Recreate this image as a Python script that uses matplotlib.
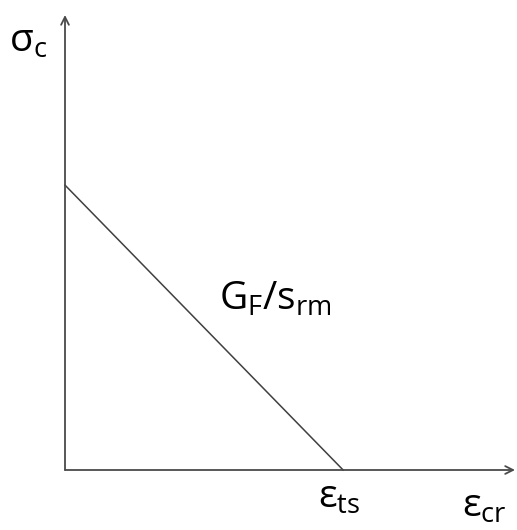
import matplotlib
matplotlib.use("Agg")
import matplotlib.pyplot as plt

# bilinear tension softening: stress drops linearly from peak to zero at eps_ts
strain = [0.0, 1.0]
stress = [1.0, 0.0]
x_max, y_max = 1.618, 1.597

plt.rcParams['font.family'] = ['Open Sans', 'DejaVu Sans']
plt.rcParams['mathtext.fontset'] = 'custom'
plt.rcParams['mathtext.rm'] = 'Open Sans'
plt.rcParams['mathtext.it'] = 'Open Sans'
plt.rcParams['mathtext.sf'] = 'Open Sans'

fig = plt.figure(figsize=(5.17, 5.30), dpi=100)
ax = fig.add_axes([65/517, 60/530, 450/517, 455/530])
ax.set_xlim(0, x_max)
ax.set_ylim(0, y_max)
for s in ax.spines.values():
    s.set_visible(False)
ax.set_xticks([])
ax.set_yticks([])

axcol = '#4a4a4a'
# axes with open arrowheads
ax.annotate('', xy=(x_max, 0), xytext=(0, 0),
            arrowprops=dict(arrowstyle='->', color=axcol, lw=1.3,
                            shrinkA=0, shrinkB=0, mutation_scale=14),
            annotation_clip=False)
ax.annotate('', xy=(0, y_max), xytext=(0, 0),
            arrowprops=dict(arrowstyle='->', color=axcol, lw=1.3,
                            shrinkA=0, shrinkB=0, mutation_scale=14),
            annotation_clip=False)

ax.plot(strain, stress, color='#404040', lw=1.1, clip_on=False)

fs = 28
fig.text(9/517, 1 - 52/530, r'$\mathrm{\sigma_c}$', fontsize=fs, ha='left', va='baseline')
fig.text(318/517, 1 - 508/530, r'$\mathrm{\epsilon_{ts}}$', fontsize=fs, ha='left', va='baseline')
fig.text(462/517, 1 - 517/530, r'$\mathrm{\epsilon_{cr}}$', fontsize=fs, ha='left', va='baseline')
fig.text(219/517, 1 - 310/530, r'$\mathrm{G_F/s_{rm}}$', fontsize=fs, ha='left', va='baseline')

fig.savefig('out.png', dpi=100, facecolor='white')
